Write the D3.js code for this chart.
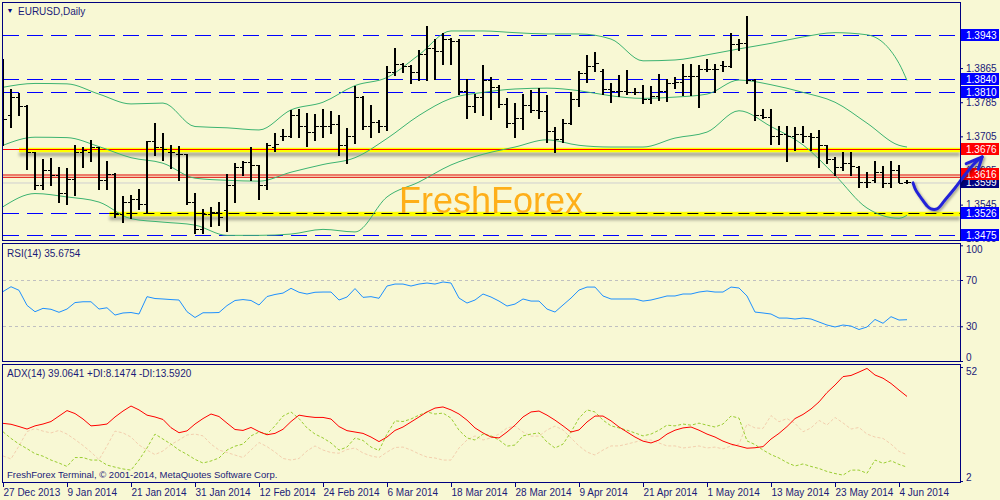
<!DOCTYPE html>
<html><head><meta charset="utf-8">
<script src="https://cdn.jsdelivr.net/npm/d3@7"></script>
<style>
body{margin:0;background:#f8f8d4}
svg{display:block}
text{font-family:"Liberation Sans",Arial,sans-serif}
</style></head>
<body><svg id="c" width="1000" height="500"></svg>
<script>
// ---------------- DATA ----------------
const timeTickBars = [0,8,16,24,32,40,48,56,64,72,80,88,96,104,112];
const timeTickLabels = ["27 Dec 2013","9 Jan 2014","21 Jan 2014","31 Jan 2014","12 Feb 2014","24 Feb 2014","6 Mar 2014","18 Mar 2014","28 Mar 2014","9 Apr 2014","21 Apr 2014","1 May 2014","13 May 2014","23 May 2014","4 Jun 2014"];

const open = [
1.3760,1.3754,1.3797,1.3775,1.3668,1.3590,1.3625,1.3614,1.3572,1.3606,
1.3668,1.3668,1.3680,1.3602,1.3617,1.3524,1.3551,1.3559,1.3546,1.3694,
1.3680,1.3668,1.3663,1.3663,1.3551,1.3487,1.3524,1.3528,1.3533,1.3590,
1.3633,1.3645,1.3637,1.3590,1.3680,1.3707,1.3707,1.3754,1.3730,1.3715,
1.3730,1.3730,1.3733,1.3684,1.3707,1.3798,1.3730,1.3738,1.3730,1.3855,
1.3874,1.3871,1.3855,1.3898,1.3913,1.3906,1.3933,1.3929,1.3812,1.3777,
1.3797,1.3836,1.3820,1.3781,1.3736,1.3748,1.3779,1.3767,1.3765,1.3717,
1.3699,1.3736,1.3793,1.3853,1.3871,1.3858,1.3816,1.3811,1.3811,1.3808,
1.3808,1.3793,1.3800,1.3811,1.3829,1.3832,1.3847,1.3847,1.3863,1.3863,
1.3873,1.3871,1.3921,1.3923,1.3836,1.3754,1.3751,1.3707,1.3711,1.3707,
1.3711,1.3705,1.3703,1.3684,1.3652,1.3633,1.3642,1.3633,1.3598,1.3602,
1.3621,1.3596,1.3625,1.3597];
const high = [
1.3886,1.3814,1.3806,1.3777,1.3668,1.3650,1.3652,1.3633,1.3629,1.3684,
1.3680,1.3695,1.3680,1.3645,1.3617,1.3564,1.3567,1.3580,1.3694,1.3734,
1.3712,1.3684,1.3681,1.3663,1.3571,1.3533,1.3538,1.3551,1.3616,1.3641,
1.3647,1.3680,1.3637,1.3688,1.3711,1.3720,1.3765,1.3769,1.3758,1.3756,
1.3769,1.3764,1.3754,1.3723,1.3821,1.3798,1.3777,1.3742,1.3868,1.3910,
1.3876,1.3871,1.3907,1.3962,1.3931,1.3945,1.3935,1.3931,1.3839,1.3804,
1.3871,1.3842,1.3824,1.3793,1.3781,1.3803,1.3812,1.3816,1.3800,1.3726,
1.3744,1.3808,1.3857,1.3894,1.3902,1.3862,1.3829,1.3847,1.3859,1.3818,
1.3824,1.3821,1.3850,1.3839,1.3842,1.3874,1.3874,1.3871,1.3884,1.3874,
1.3881,1.3945,1.3933,1.3987,1.3839,1.3769,1.3767,1.3728,1.3728,1.3726,
1.3728,1.3712,1.3719,1.3684,1.3655,1.3666,1.3668,1.3635,1.3621,1.3645,
1.3635,1.3646,1.3637,1.3601];
const low = [
1.3684,1.3725,1.3754,1.3627,1.3580,1.3580,1.3590,1.3551,1.3546,1.3567,
1.3633,1.3645,1.3580,1.3580,1.3515,1.3504,1.3512,1.3533,1.3524,1.3660,
1.3649,1.3629,1.3602,1.3546,1.3477,1.3477,1.3493,1.3497,1.3481,1.3551,
1.3614,1.3602,1.3557,1.3580,1.3670,1.3695,1.3703,1.3702,1.3681,1.3695,
1.3703,1.3711,1.3660,1.3641,1.3688,1.3720,1.3703,1.3715,1.3719,1.3847,
1.3855,1.3828,1.3836,1.3836,1.3839,1.3873,1.3874,1.3804,1.3746,1.3762,
1.3754,1.3744,1.3772,1.3725,1.3702,1.3720,1.3762,1.3748,1.3691,1.3668,
1.3691,1.3733,1.3775,1.3832,1.3857,1.3803,1.3785,1.3798,1.3804,1.3804,
1.3781,1.3783,1.3790,1.3787,1.3818,1.3800,1.3800,1.3772,1.3857,1.3808,
1.3857,1.3867,1.3907,1.3828,1.3741,1.3746,1.3686,1.3686,1.3645,1.3673,
1.3691,1.3673,1.3631,1.3642,1.3614,1.3625,1.3614,1.3586,1.3585,1.3598,
1.3585,1.3585,1.3596,1.3594];
const close = [
1.3746,1.3797,1.3775,1.3668,1.3590,1.3625,1.3614,1.3572,1.3606,1.3668,
1.3672,1.3680,1.3602,1.3617,1.3524,1.3551,1.3559,1.3546,1.3694,1.3680,
1.3676,1.3668,1.3663,1.3551,1.3487,1.3524,1.3528,1.3516,1.3590,1.3633,
1.3645,1.3637,1.3590,1.3684,1.3686,1.3707,1.3754,1.3730,1.3715,1.3730,
1.3730,1.3733,1.3684,1.3707,1.3798,1.3730,1.3738,1.3730,1.3855,1.3874,
1.3871,1.3855,1.3898,1.3913,1.3906,1.3933,1.3929,1.3812,1.3777,1.3797,
1.3836,1.3820,1.3781,1.3736,1.3748,1.3779,1.3767,1.3765,1.3717,1.3699,
1.3736,1.3793,1.3853,1.3871,1.3878,1.3816,1.3811,1.3811,1.3808,1.3808,
1.3793,1.3800,1.3811,1.3829,1.3832,1.3847,1.3847,1.3863,1.3863,1.3863,
1.3871,1.3921,1.3923,1.3838,1.3754,1.3751,1.3707,1.3711,1.3707,1.3711,
1.3705,1.3703,1.3684,1.3652,1.3633,1.3642,1.3635,1.3598,1.3598,1.3621,
1.3596,1.3625,1.3596,1.3599];

// Bollinger bands (20,2) read every 4th bar
const bandBars = [0,4,8,12,16,20,24,28,32,36,40,44,48,52,56,60,64,68,72,76,80,84,88,92,96,100,104,108,112,113];
const bbUpper  = [1.3820,1.3829,1.3828,1.3804,1.3781,1.3783,1.3728,1.3725,1.3720,1.3767,1.3785,1.3824,1.3843,1.3896,1.3952,1.3952,1.3948,1.3945,1.3945,1.3933,1.3882,1.3884,1.3896,1.3910,1.3923,1.3938,1.3948,1.3943,1.3876,1.3836];
const bbMiddle = [1.3684,1.3703,1.3702,1.3681,1.3655,1.3642,1.3607,1.3602,1.3600,1.3621,1.3639,1.3655,1.3700,1.3754,1.3794,1.3808,1.3816,1.3818,1.3812,1.3800,1.3794,1.3797,1.3804,1.3837,1.3826,1.3808,1.3785,1.3736,1.3684,1.3680];
const bbLower  = [1.3540,1.3571,1.3563,1.3551,1.3512,1.3504,1.3497,1.3473,1.3473,1.3476,1.3487,1.3481,1.3563,1.3598,1.3638,1.3663,1.3680,1.3697,1.3684,1.3680,1.3680,1.3701,1.3715,1.3765,1.3728,1.3685,1.3614,1.3537,1.3513,1.3520];

const rsi14 = [
60.0,64.2,61.1,48.1,42.6,45.5,44.7,42.1,44.9,50.5,
51.2,51.2,44.9,46.0,39.7,41.5,41.9,40.6,55.6,54.0,
53.6,53.1,52.7,42.6,37.6,41.7,41.7,41.9,47.9,52.3,
53.1,52.3,48.4,55.7,57.5,58.7,62.8,59.4,57.9,59.4,
59.6,59.6,52.7,55.3,62.6,55.0,55.6,54.2,64.8,66.5,
66.5,64.8,66.5,67.4,66.5,68.3,67.4,54.4,50.1,52.7,
57.9,55.3,51.8,47.5,49.2,53.6,51.8,51.8,44.9,42.3,
48.4,54.4,61.3,63.9,63.9,56.2,53.6,53.6,53.6,53.6,
51.8,52.7,54.4,56.2,56.2,57.9,57.9,59.6,60.5,59.6,
59.6,63.9,63.1,56.2,42.3,41.5,40.6,37.1,37.1,36.3,
37.1,36.3,33.7,31.1,29.4,31.1,30.2,27.2,29.4,35.9,
32.6,38.3,35.4,35.7];

const adx14 = [
27.3,26.9,25.9,24.8,26.2,27.0,28.1,30.5,32.9,31.6,
29.2,26.2,26.5,27.0,30.1,32.7,34.9,33.2,30.9,30.1,
29.0,25.4,23.2,24.0,27.0,29.4,31.4,30.3,27.4,24.6,
24.2,25.5,23.7,22.3,22.9,24.7,28.1,30.9,30.3,29.9,
29.9,29.2,25.9,24.1,23.5,22.9,21.3,19.3,21.3,24.2,
25.7,27.9,30.1,32.3,34.0,34.5,33.2,31.4,28.7,25.3,
23.1,21.3,20.9,23.5,26.5,30.1,32.3,32.7,30.9,28.7,
26.2,23.5,24.4,27.9,30.5,30.5,28.4,25.7,23.5,21.3,
19.5,18.7,20.0,22.6,24.3,25.3,25.7,24.3,22.6,21.3,
19.5,18.2,17.3,16.4,16.6,17.1,20.4,22.9,25.9,29.4,
31.2,33.6,36.7,40.8,44.1,47.8,48.3,49.8,51.4,48.5,
47.1,44.8,41.9,39.1];
const plusDI = [
23.6,20.7,18.2,16.2,14.0,12.9,11.2,9.9,8.4,12.3,
12.3,11.2,11.2,9.0,8.1,7.3,6.8,11.2,16.5,22.6,
20.4,18.2,15.6,13.7,11.5,9.9,10.8,12.1,15.6,17.3,
18.2,21.8,23.5,22.6,26.2,30.5,32.3,29.4,25.3,22.6,
20.9,18.7,15.6,16.9,20.9,19.8,16.9,15.4,22.6,28.4,
28.1,29.2,30.9,32.3,31.4,31.8,29.6,24.3,20.9,20.0,
22.6,21.8,20.0,17.3,17.8,21.8,22.6,23.1,19.1,16.5,
18.2,23.5,29.6,33.2,32.3,28.7,26.2,25.3,24.3,23.1,
21.8,22.6,24.3,26.5,26.2,27.0,26.5,27.4,26.5,25.7,
27.0,30.5,29.6,19.6,18.0,15.6,13.6,12.1,10.1,8.6,
9.5,8.4,7.5,6.2,5.3,4.6,6.8,6.8,5.4,11.2,
9.8,10.9,9.3,8.1];
const minusDI = [
13.0,11.7,17.4,23.7,25.0,23.9,23.1,24.2,22.6,20.2,
17.6,14.7,11.4,17.4,23.9,23.1,21.3,17.8,15.6,13.6,
15.2,18.0,20.0,22.2,22.6,21.8,18.2,15.6,14.5,13.4,
12.3,15.6,18.9,17.1,14.7,11.9,11.2,11.9,15.2,17.4,
15.6,14.5,14.2,15.8,16.5,14.3,13.0,12.3,14.7,16.7,
16.9,15.6,13.9,12.5,12.1,11.2,11.2,16.5,20.0,21.8,
20.0,20.9,22.6,25.3,26.1,23.5,21.7,21.7,24.4,26.1,
24.4,20.9,17.4,14.7,13.4,15.6,17.4,17.4,18.2,19.1,
20.0,20.0,18.7,17.4,17.4,16.5,16.9,17.4,16.5,16.9,
16.1,17.4,18.2,27.0,25.3,25.1,30.7,28.0,29.4,27.3,
23.6,25.3,28.6,26.6,29.9,27.5,24.8,25.5,22.6,21.3,
20.7,18.2,15.0,13.6];

const blueDashedLevels = [1.3943,1.3840,1.3810,1.3526,1.3475];
const yellowLevels = [1.3676,1.3526];
const yellowFromBar = [2,13.3];
const redLevel = 1.3676;
const redDoubleLevel = 1.3616;
const greyLevel = 1.3599;
const priceTicks = [1.3865,1.3785,1.3705,1.3625,1.3545,1.3465];
const boxLevels = [1.3943,1.3840,1.3810,1.3676,1.3599,1.3616,1.3526,1.3475];
const rsiLevels = [70,30];
const rsiTicks = [100,70,30,0];
const adxTicks = [52,2];
// hand-drawn forecast arrow (bar index, price)
const arrowBars   = [113.75,114.1,114.75,115.5,116.0,116.75,117.75,119.0,120.25,121.5,122.4];
const arrowPrices = [1.3596,1.3579,1.3561,1.3542,1.3535,1.3535,1.3556,1.3584,1.3615,1.3643,1.3657];
const arrowHeadBars   = [120.4,122.4,121.9];
const arrowHeadPrices = [1.3641,1.3657,1.3628];

// ---------------- STYLE / LAYOUT ----------------
const BG = "#f8f8d4", NAVY = "#000080", TXT = "#1a1a78";
const PL = 3, PR = 960;
const main = {top:2, bottom:241}, rsiP = {top:243, bottom:362}, adxP = {top:364, bottom:483};
const boxColor = {"1.3676":"#ff0000","1.3616":"#ff0000","1.3599":"#000080"};

const x  = d3.scaleLinear().domain([0,113]).range([3,907]);
const yP = d3.scaleLinear().domain([1.3943,1.3475]).range([34.8,234.5]);
const yR = d3.scaleLinear().domain([0,100]).range([361,245.3]);
const yA = d3.scaleLinear().domain([0,52]).range([485.6,367.04]);
const fmt4 = d3.format(".4f");

const svg = d3.select("#c");
svg.append("rect").attr("width",1000).attr("height",500).attr("fill",BG);
const defs = svg.append("defs");
function clip(id,p){defs.append("clipPath").attr("id",id).append("rect").attr("x",PL).attr("y",p.top).attr("width",PR-PL).attr("height",p.bottom-p.top);}
clip("cm",main); clip("cr",rsiP); clip("ca",adxP);
defs.append("filter").attr("id","blur").attr("x","-5%").attr("y","-100%").attr("width","110%").attr("height","300%")
  .append("feGaussianBlur").attr("stdDeviation",1.4);
const ds = defs.append("filter").attr("id","dsh").attr("x","-20%").attr("y","-20%").attr("width","140%").attr("height","140%");
ds.append("feDropShadow").attr("dx",1.5).attr("dy",1.5).attr("stdDeviation",1).attr("flood-color","#000").attr("flood-opacity",0.35);

// ---------------- MAIN PANEL ----------------
const gm = svg.append("g").attr("clip-path","url(#cm)");
const ry = v => Math.round(yP(v)) + 0.5;

// blue dashed levels
gm.selectAll("line.bl").data(blueDashedLevels).join("line")
  .attr("x1",PL).attr("x2",PR).attr("y1",ry).attr("y2",ry)
  .attr("stroke","#0000ff").attr("stroke-width",1).attr("stroke-dasharray","16,8");

// shadows + yellow bands
gm.selectAll("rect.sh").data(yellowLevels).join("rect")
  .attr("x",(d,i)=>x(yellowFromBar[i])).attr("width",(d,i)=>PR-x(yellowFromBar[i]))
  .attr("y",d=>yP(d)+3.5).attr("height",4).attr("fill","#6a6a60").attr("opacity",0.55).attr("filter","url(#blur)");
gm.selectAll("line.yl").data(yellowLevels).join("line")
  .attr("x1",(d,i)=>x(yellowFromBar[i])).attr("x2",PR)
  .attr("y1",d=>yP(d)+1.2).attr("y2",d=>yP(d)+1.2)
  .attr("stroke","#ffff00").attr("stroke-width",4.5);
// black dashed on lower yellow band
gm.append("line").attr("x1",x(yellowFromBar[1])).attr("x2",PR)
  .attr("y1",ry(yellowLevels[1])).attr("y2",ry(yellowLevels[1]))
  .attr("stroke","#000").attr("stroke-width",1).attr("stroke-dasharray","11,6");
// red line at resistance
gm.append("line").attr("x1",PL).attr("x2",PR).attr("y1",ry(redLevel)).attr("y2",ry(redLevel))
  .attr("stroke","#ff0000").attr("stroke-width",1);
// red double line
[1,3.3].forEach(o=>gm.append("line").attr("x1",PL).attr("x2",PR)
  .attr("y1",Math.round(yP(redDoubleLevel))+o).attr("y2",Math.round(yP(redDoubleLevel))+o)
  .attr("stroke","#e00000").attr("stroke-width",1));
// grey bid line
gm.append("line").attr("x1",PL).attr("x2",PR).attr("y1",ry(greyLevel)+0.5).attr("y2",ry(greyLevel)+0.5)
  .attr("stroke","#cfcfcf").attr("stroke-width",1);

// Bollinger bands
const bandLine = arr => d3.line().x((d,i)=>x(bandBars[i])).y(d=>yP(d)).curve(d3.curveMonotoneX)(arr);
[bbUpper,bbMiddle,bbLower].forEach(a=>gm.append("path").attr("d",bandLine(a))
  .attr("fill","none").attr("stroke","#3cb371").attr("stroke-width",1));

// OHLC bars
const idx = d3.range(open.length);
const gb = gm.append("g").attr("stroke","#000").attr("shape-rendering","crispEdges");
gb.selectAll("line.v").data(idx).join("line")
  .attr("x1",i=>x(i)).attr("x2",i=>x(i)).attr("y1",i=>yP(high[i])-0.5).attr("y2",i=>yP(low[i])+0.5).attr("stroke-width",2);
gb.selectAll("line.o").data(idx).join("line")
  .attr("x1",i=>x(i)-3).attr("x2",i=>x(i)).attr("y1",i=>Math.round(yP(open[i]))+0.5).attr("y2",i=>Math.round(yP(open[i]))+0.5).attr("stroke-width",1);
gb.selectAll("line.c").data(idx).join("line")
  .attr("x1",i=>x(i)).attr("x2",i=>x(i)+4).attr("y1",i=>Math.round(yP(close[i]))+0.5).attr("y2",i=>Math.round(yP(close[i]))+0.5).attr("stroke-width",1);

// watermark
svg.append("text").attr("x",399).attr("y",213).attr("font-size",36).attr("fill","#ffa500").attr("opacity",0.88).text("FreshForex");

// ---------------- RIGHT PRICE AXIS ----------------
const axP = svg.append("g").attr("transform",`translate(${PR},0)`)
  .call(d3.axisRight(yP).tickValues(priceTicks).tickSize(3).tickPadding(3).tickFormat(fmt4));
axP.select(".domain").remove();
axP.selectAll("line").attr("stroke",NAVY);
axP.selectAll("text").attr("fill",TXT).attr("font-size",10);

const gbx = svg.append("g");
boxLevels.forEach(l=>{
  const c = boxColor[l.toFixed(4)] || "#0000ff";
  const yy = Math.round(yP(l));
  gbx.append("rect").attr("x",PR+1).attr("y",yy-6).attr("width",38).attr("height",12).attr("fill",c);
  gbx.append("text").attr("x",PR+6).attr("y",yy).attr("dy","0.35em").attr("fill","#fff").attr("font-size",10).text(fmt4(l));
});

// arrow (drawn over axis)
const ga = svg.append("g").attr("filter","url(#dsh)");
ga.append("path").attr("d",d3.line().curve(d3.curveCatmullRom)(arrowBars.map((b,i)=>[x(b),yP(arrowPrices[i])])))
  .attr("fill","none").attr("stroke","#2424d8").attr("stroke-width",3).attr("stroke-linecap","round").attr("stroke-linejoin","round");
ga.append("path").attr("d",d3.line()(arrowHeadBars.map((b,i)=>[x(b),yP(arrowHeadPrices[i])])))
  .attr("fill","none").attr("stroke","#2424d8").attr("stroke-width",3).attr("stroke-linecap","round").attr("stroke-linejoin","round");

// ---------------- RSI PANEL ----------------
const gr = svg.append("g").attr("clip-path","url(#cr)");
gr.selectAll("line.lv").data(rsiLevels).join("line").attr("x1",PL).attr("x2",PR)
  .attr("y1",d=>Math.round(yR(d))+0.5).attr("y2",d=>Math.round(yR(d))+0.5)
  .attr("stroke","#c0c0c0").attr("stroke-dasharray","3,3");
gr.append("path").attr("d",d3.line().x((d,i)=>x(i)).y(d=>yR(d))(rsi14))
  .attr("fill","none").attr("stroke","#1e90ff").attr("stroke-width",1);
const axR = svg.append("g").attr("transform",`translate(${PR},0)`)
  .call(d3.axisRight(yR).tickValues(rsiTicks).tickSize(3).tickPadding(3));
axR.select(".domain").remove();
axR.selectAll("line").attr("stroke",NAVY);
axR.selectAll("text").attr("fill",TXT).attr("font-size",10)
  .attr("dy",d=>d===100?"0.75em":d===0?"-0.1em":"0.32em");

// ---------------- ADX PANEL ----------------
const gA = svg.append("g").attr("clip-path","url(#ca)");
const lA = d3.line().x((d,i)=>x(i)).y(d=>yA(d));
gA.append("path").attr("d",lA(minusDI)).attr("fill","none").attr("stroke","#f3cfae").attr("stroke-width",1).attr("stroke-dasharray","3,2");
gA.append("path").attr("d",lA(plusDI)).attr("fill","none").attr("stroke","#9acd32").attr("stroke-width",1).attr("stroke-dasharray","3,2");
gA.append("path").attr("d",lA(adx14)).attr("fill","none").attr("stroke","#ff0000").attr("stroke-width",1);
const axA = svg.append("g").attr("transform",`translate(${PR},0)`)
  .call(d3.axisRight(yA).tickValues(adxTicks).tickSize(3).tickPadding(3));
axA.select(".domain").remove();
axA.selectAll("line").attr("stroke",NAVY);
axA.selectAll("text").attr("fill",TXT).attr("font-size",10)
  .attr("dy",d=>d===52?"0.75em":"-0.1em");

// ---------------- FRAMES ----------------
[main,rsiP,adxP].forEach(p=>svg.append("rect").attr("x",PL-0.5).attr("y",p.top+0.5)
  .attr("width",PR-PL+0.5).attr("height",p.bottom-p.top-1)
  .attr("fill","none").attr("stroke",NAVY).attr("stroke-width",1).attr("shape-rendering","crispEdges"));

// ---------------- TIME AXIS ----------------
const axT = svg.append("g").attr("transform",`translate(0,${adxP.bottom-0.5})`)
  .call(d3.axisBottom(x).tickValues(timeTickBars).tickSize(4).tickPadding(2).tickFormat((d,i)=>timeTickLabels[i]));
axT.select(".domain").remove();
axT.selectAll("line").attr("stroke",NAVY).attr("shape-rendering","crispEdges");
axT.selectAll("text").attr("fill",TXT).attr("font-size",10).attr("text-anchor","start");

// ---------------- LABELS ----------------
svg.append("text").attr("x",6.5).attr("y",13).attr("font-size",7).attr("fill",NAVY).text("▼");
svg.append("text").attr("x",18).attr("y",14.7).attr("font-size",10).attr("fill",TXT).text("EURUSD,Daily");
svg.append("text").attr("x",7).attr("y",256.7).attr("font-size",10).attr("fill",TXT).text("RSI(14) 35.6754");
svg.append("text").attr("x",7).attr("y",377.3).attr("font-size",10).attr("fill",TXT).text("ADX(14) 39.0641 +DI:8.1474 -DI:13.5920");
svg.append("text").attr("x",7).attr("y",478.3).attr("font-size",9.5).attr("fill",TXT).text("FreshForex Terminal, © 2001-2014, MetaQuotes Software Corp.");
</script></body></html>
